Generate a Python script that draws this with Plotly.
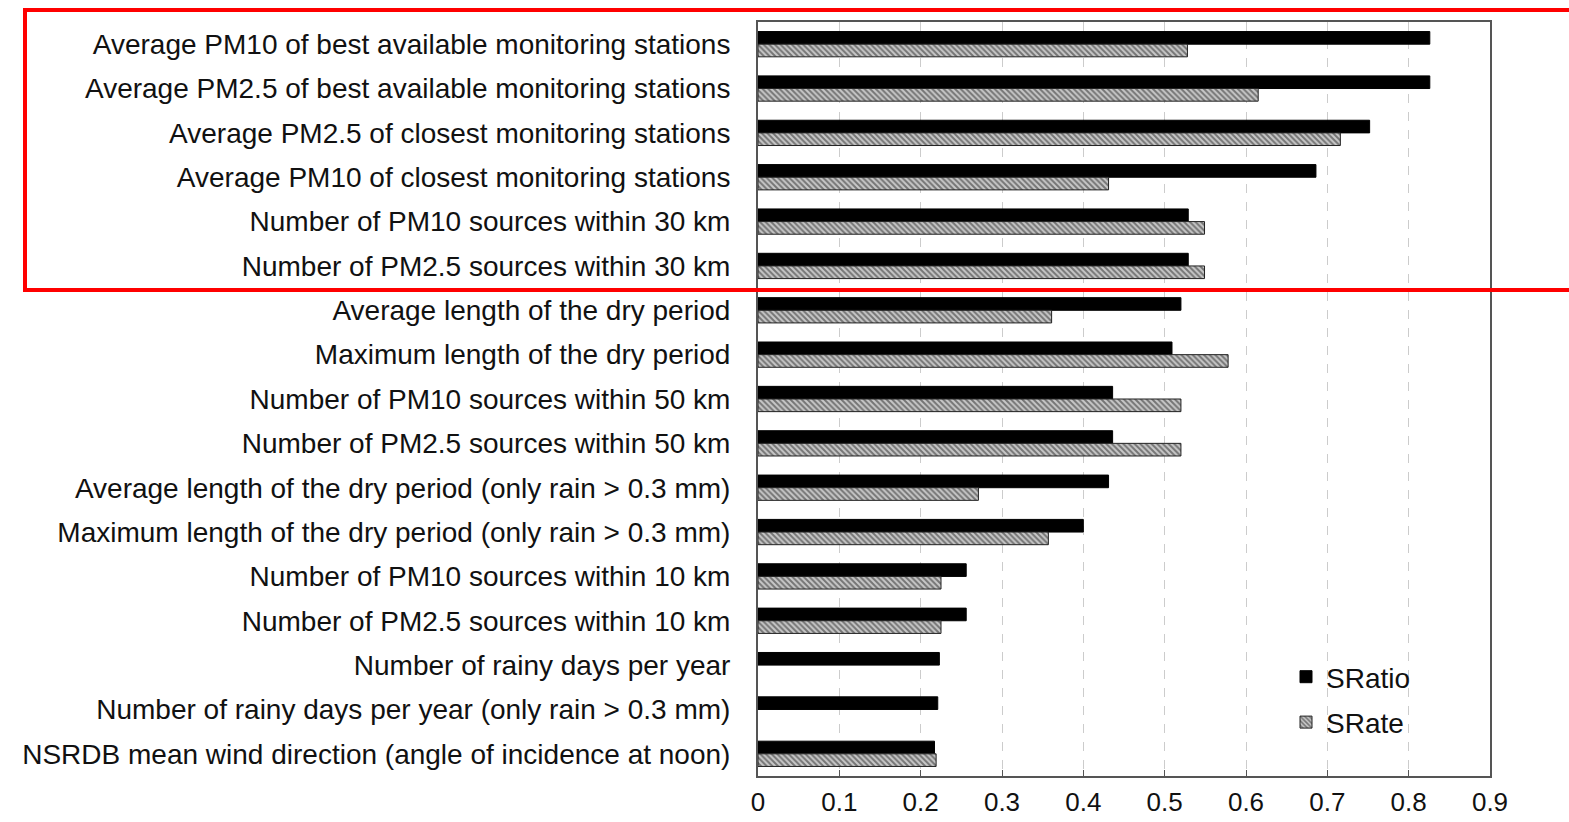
import plotly.graph_objects as go

categories = [
    "Average PM10 of best available monitoring stations",
    "Average PM2.5 of best available monitoring stations",
    "Average PM2.5 of closest monitoring stations",
    "Average PM10 of closest monitoring stations",
    "Number of PM10 sources within 30 km",
    "Number of PM2.5 sources within 30 km",
    "Average length of the dry period",
    "Maximum length of the dry period",
    "Number of PM10 sources within 50 km",
    "Number of PM2.5 sources within 50 km",
    "Average length of the dry period (only rain > 0.3 mm)",
    "Maximum length of the dry period (only rain > 0.3 mm)",
    "Number of PM10 sources within 10 km",
    "Number of PM2.5 sources within 10 km",
    "Number of rainy days per year",
    "Number of rainy days per year (only rain > 0.3 mm)",
    "NSRDB mean wind direction (angle of incidence at noon)",
]
sratio = [0.826, 0.826, 0.752, 0.686, 0.529, 0.529, 0.520, 0.509, 0.436, 0.436,
          0.431, 0.400, 0.256, 0.256, 0.223, 0.221, 0.217]
srate = [0.528, 0.615, 0.716, 0.431, 0.549, 0.549, 0.361, 0.578, 0.520, 0.520,
         0.271, 0.357, 0.225, 0.225, None, None, 0.219]
x_ticks = [0, 0.1, 0.2, 0.3, 0.4, 0.5, 0.6, 0.7, 0.8, 0.9]

FONT = "Liberation Sans"
W, H = 1569, 822
L, R, T, B = 758, 1490, 22, 776

fig = go.Figure()
fig.add_trace(go.Bar(
    y=categories, x=sratio, orientation="h", name="SRatio",
    legendgroup="a",
    marker=dict(color="black", line=dict(color="black", width=1)),
))
fig.add_trace(go.Bar(
    y=categories, x=srate, orientation="h", name="SRate",
    legendgroup="b",
    marker=dict(color="white", line=dict(color="#222", width=1),
                pattern=dict(shape="\\", fgcolor="#222", bgcolor="#c8c8c8", size=4, solidity=0.5)),
))

def px_x(p):
    return (p - L) / (R - L)

def px_y(p):
    return (B - p) / (B - T)

fig.add_shape(type="rect", xref="paper", yref="paper",
              x0=px_x(25), x1=px_x(1600), y0=px_y(290), y1=px_y(10),
              line=dict(color="#ff0000", width=4), fillcolor="rgba(0,0,0,0)", layer="above")

fig.update_layout(
    width=W, height=H,
    margin=dict(l=L, r=W - R, t=T, b=H - B, autoexpand=False),
    paper_bgcolor="white", plot_bgcolor="white",
    barmode="group", bargap=0.43, bargroupgap=0,
    font=dict(family=FONT, size=28, color="#111"),
    legend=dict(x=px_x(1286), y=px_y(652), xanchor="left", yanchor="top",
                bgcolor="rgba(0,0,0,0)", font=dict(size=28), tracegroupgap=6,
                itemwidth=30),
    showlegend=True,
)
fig.update_xaxes(range=[0, 0.9], tickvals=x_ticks, ticktext=[f"{v:g}" for v in x_ticks],
                 showgrid=True, gridcolor="#cccccc", griddash="dash", gridwidth=1,
                 showline=True, linecolor="#555", linewidth=2, mirror=True,
                 ticks="inside", ticklen=6, tickcolor="#555", zeroline=False,
                 tickfont=dict(size=26), ticklabelstandoff=2, automargin=False)
fig.update_yaxes(autorange="reversed", showline=True, linecolor="#555", linewidth=2,
                 mirror=True, ticks="", tickfont=dict(size=28), ticklabelstandoff=20,
                 showgrid=False, automargin=False)

fig.write_html("out.html")
